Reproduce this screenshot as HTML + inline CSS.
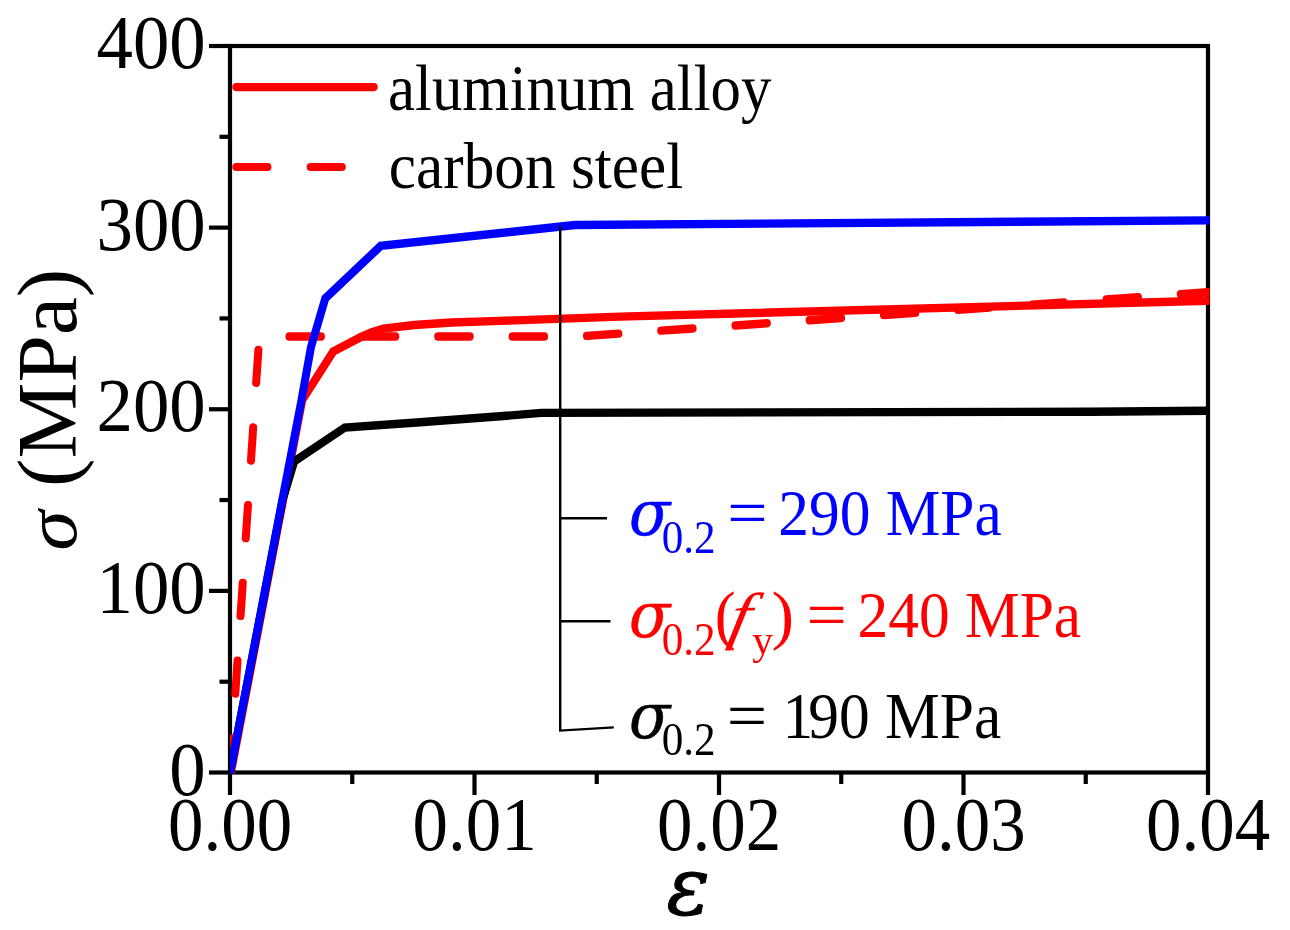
<!DOCTYPE html>
<html lang="en"><head><meta charset="utf-8"><title>Stress-strain curves</title>
<style>html,body{margin:0;padding:0;background:#fff;}body{width:1290px;height:930px;overflow:hidden;}svg{display:block;}text{font-family:"Liberation Serif","DejaVu Serif",serif;font-kerning:none;font-variant-ligatures:none;white-space:pre;}.i{font-style:italic;}.dj{font-family:"DejaVu Serif","Liberation Serif",serif;}</style>
</head><body>
<svg width="1290" height="930" viewBox="0 0 1290 930">
<rect x="0" y="0" width="1290" height="930" fill="#ffffff"/>
<g stroke="#000" stroke-width="4.2" fill="none" stroke-linecap="butt">
<rect x="230.0" y="46.0" width="978.0" height="726.5"/>
<line x1="209" y1="772.50" x2="230.0" y2="772.50"/>
<line x1="209" y1="590.88" x2="230.0" y2="590.88"/>
<line x1="209" y1="409.25" x2="230.0" y2="409.25"/>
<line x1="209" y1="227.62" x2="230.0" y2="227.62"/>
<line x1="209" y1="46.00" x2="230.0" y2="46.00"/>
<line x1="219.5" y1="681.69" x2="230.0" y2="681.69"/>
<line x1="219.5" y1="500.06" x2="230.0" y2="500.06"/>
<line x1="219.5" y1="318.44" x2="230.0" y2="318.44"/>
<line x1="219.5" y1="136.81" x2="230.0" y2="136.81"/>
<line x1="230.00" y1="772.5" x2="230.00" y2="795"/>
<line x1="474.50" y1="772.5" x2="474.50" y2="795"/>
<line x1="719.00" y1="772.5" x2="719.00" y2="795"/>
<line x1="963.50" y1="772.5" x2="963.50" y2="795"/>
<line x1="1208.00" y1="772.5" x2="1208.00" y2="795"/>
<line x1="352.25" y1="772.5" x2="352.25" y2="784"/>
<line x1="596.75" y1="772.5" x2="596.75" y2="784"/>
<line x1="841.25" y1="772.5" x2="841.25" y2="784"/>
<line x1="1085.75" y1="772.5" x2="1085.75" y2="784"/>
</g>
<defs><clipPath id="plotclip"><rect x="240.84" y="40.0" width="1025.76" height="733.6"/></clipPath></defs>
<g transform="scale(0.9550,1)" fill="none" stroke-width="8.4" stroke-linejoin="miter" clip-path="url(#plotclip)">
<polyline stroke="#ff0000" stroke-linecap="round" stroke-dasharray="33 44.9" stroke-dashoffset="-1.2" points="240.84,772.50 271.52,336.50 605.24,336.50 1264.92,292.30 1272.25,291.80"/>
<polyline stroke="#ff0000" points="240.31,780.00 316.54,400.00 348.90,351.60 378.12,336.90 389.53,332.20 401.47,328.70 433.93,325.00 472.88,322.50 523.56,320.90 649.21,316.60 1264.92,300.70 1272.25,300.50"/>
<polyline stroke="#000000" points="239.33,780.00 295.92,500.00 308.06,461.50 361.05,427.50 439.79,422.20 523.56,416.30 566.81,412.90 1141.36,411.70 1264.92,410.70 1272.25,410.60"/>
<polyline stroke="#0000ff" points="239.33,780.00 315.71,400.00 325.65,347.00 340.63,298.30 398.74,245.80 601.88,225.00 1264.92,220.40 1272.25,220.35"/>
</g>
<g transform="scale(0.9550,1)" fill="none" stroke="#ff0000" stroke-width="8.2" stroke-linecap="round">
<line x1="247.33" y1="87.1" x2="391.41" y2="87.1"/>
<line x1="247.33" y1="167" x2="391.41" y2="167" stroke-dasharray="32.8 45.1"/>
</g>
<g fill="none" stroke="#000" stroke-width="2.4" stroke-linecap="butt">
<polyline points="560.2,226.6 560.2,730.6 613.8,727.4"/>
<line x1="560.2" y1="518.2" x2="607" y2="518.2"/>
<line x1="560.2" y1="621.3" x2="610.5" y2="621.3"/>
</g>
<text transform="translate(169.37,794.70) scale(0.9581,1)" font-size="76">0</text>
<text transform="translate(96.55,613.08) scale(0.9581,1)" font-size="76">100</text>
<text transform="translate(96.55,431.45) scale(0.9581,1)" font-size="76">200</text>
<text transform="translate(96.55,249.82) scale(0.9581,1)" font-size="76">300</text>
<text transform="translate(96.55,68.20) scale(0.9581,1)" font-size="76">400</text>
<text transform="translate(168.12,849.90) scale(0.9336,1)" font-size="76">0.00</text>
<text transform="translate(412.62,849.90) scale(0.9336,1)" font-size="76">0.01</text>
<text transform="translate(657.12,849.90) scale(0.9336,1)" font-size="76">0.02</text>
<text transform="translate(901.62,849.90) scale(0.9336,1)" font-size="76">0.03</text>
<text transform="translate(1146.12,849.90) scale(0.9336,1)" font-size="76">0.04</text>
<text transform="translate(388.06,109.70) scale(0.9428,1)" font-size="64.5">aluminum alloy</text>
<text transform="translate(388.87,188.00) scale(0.9501,1)" font-size="64.5">carbon steel</text>
<text transform="translate(666.54,913.60) scale(1.0094,1)" font-size="80" class="i dj" stroke="#000" stroke-width="1.00" stroke-linejoin="miter">ε</text>
<text transform="translate(76.40,550.73) rotate(-90) scale(1.0880,1)" font-size="75" class="i">σ</text>
<text transform="translate(75.80,487.06) rotate(-90) scale(0.9997,1)" font-size="85.5">(MPa)</text>
<text transform="translate(628.98,534.90) scale(0.9608,1)" font-size="63.0" class="i dj" fill="#0000ff" stroke="#0000ff" stroke-width="0.50" stroke-linejoin="miter">σ</text>
<text transform="translate(661.76,552.70) scale(0.9277,1)" font-size="46.5" fill="#0000ff">0.2</text>
<text transform="translate(727.24,534.90) scale(1.0843,1)" font-size="66" fill="#0000ff">=</text>
<text transform="translate(778.20,534.90) scale(0.9311,1)" font-size="66" fill="#0000ff">290 MPa</text>
<text transform="translate(628.98,636.90) scale(0.9608,1)" font-size="63.0" class="i dj" fill="#ff0000" stroke="#ff0000" stroke-width="0.50" stroke-linejoin="miter">σ</text>
<text transform="translate(661.76,654.70) scale(0.9277,1)" font-size="46.5" fill="#ff0000">0.2</text>
<text transform="translate(714.85,636.90) scale(0.9498,1)" font-size="66" fill="#ff0000">(</text>
<text transform="translate(726.73,636.90) scale(1.1519,1) skewX(-10.0)" font-size="63.6" class="i" fill="#ff0000">f</text>
<text transform="translate(752.19,653.90) scale(0.9708,1)" font-size="43" fill="#ff0000">y</text>
<text transform="translate(771.62,636.90) scale(1.0265,1)" font-size="66" fill="#ff0000">)</text>
<text transform="translate(806.54,636.90) scale(1.0843,1)" font-size="66" fill="#ff0000">=</text>
<text transform="translate(857.50,636.90) scale(0.9311,1)" font-size="66" fill="#ff0000">240 MPa</text>
<text transform="translate(628.98,737.60) scale(0.9608,1)" font-size="63.0" class="i dj" stroke="#000" stroke-width="0.50" stroke-linejoin="miter">σ</text>
<text transform="translate(661.76,755.40) scale(0.9277,1)" font-size="46.5">0.2</text>
<text transform="translate(726.64,737.60) scale(1.0843,1)" font-size="66">=</text>
<text transform="translate(782.60,737.60) scale(0.9311,1)" font-size="66" dx="0 -5.37">190 MPa</text>
</svg>
</body></html>
